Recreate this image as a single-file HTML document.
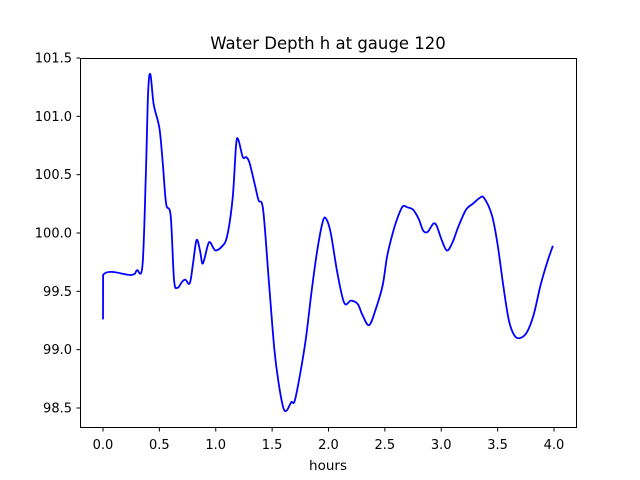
<!DOCTYPE html>
<html><head><meta charset="utf-8"><style>
html,body{margin:0;padding:0;background:#fff;}
svg{display:block;font-family:"DejaVu Sans","Liberation Sans",sans-serif;}
</style></head><body>
<svg id="chart" width="640" height="480" viewBox="0 0 640 480">
<rect width="640" height="480" fill="#fff"/>
<text x="328" y="49" font-size="16.5" text-anchor="middle">Water Depth h at gauge 120</text>
<g id="xt"></g>
<g id="yt"></g>
<path id="line" fill="none" stroke="#0000ff" stroke-width="1.8" stroke-linejoin="round"/>
<rect x="80.5" y="58.5" width="496" height="369" fill="none" stroke="#000" stroke-width="1"/>
<text x="328" y="470" font-size="13.5" text-anchor="middle">hours</text>
</svg>
<script>
const hours=[0,0.001,0.25,0.3,0.35,0.38,0.4,0.42,0.45,0.5,0.53,0.56,0.6,0.63,0.66,0.7,0.73,0.77,0.8,0.83,0.86,0.88,0.9,0.94,0.98,1.0,1.05,1.1,1.15,1.18,1.2,1.24,1.27,1.3,1.35,1.38,1.42,1.47,1.52,1.56,1.6,1.63,1.67,1.7,1.75,1.8,1.85,1.9,1.95,1.98,2.02,2.08,2.14,2.2,2.26,2.3,2.36,2.42,2.48,2.52,2.57,2.62,2.66,2.7,2.75,2.8,2.84,2.88,2.93,2.96,3.0,3.05,3.1,3.15,3.22,3.28,3.34,3.38,3.45,3.5,3.55,3.6,3.65,3.7,3.76,3.82,3.88,3.94,3.99];
const depth=[99.26,99.64,99.64,99.68,99.72,100.5,101.2,101.36,101.1,100.9,100.6,100.25,100.15,99.6,99.53,99.58,99.6,99.57,99.75,99.94,99.85,99.74,99.78,99.92,99.87,99.85,99.88,99.97,100.3,100.75,100.8,100.65,100.65,100.6,100.4,100.28,100.2,99.6,99.0,98.7,98.5,98.48,98.55,98.56,98.8,99.1,99.5,99.85,100.1,100.12,100.0,99.65,99.4,99.42,99.39,99.3,99.21,99.35,99.55,99.8,100.0,100.15,100.23,100.22,100.2,100.12,100.02,100.01,100.08,100.06,99.95,99.85,99.92,100.05,100.2,100.25,100.3,100.3,100.15,99.9,99.55,99.25,99.12,99.1,99.15,99.3,99.55,99.75,99.89];
const xTicks=[0,0.5,1,1.5,2,2.5,3,3.5,4];
const xTickLabels=["0.0","0.5","1.0","1.5","2.0","2.5","3.0","3.5","4.0"];
const yTicks=[98.5,99,99.5,100,100.5,101,101.5];
const yTickLabels=["98.5","99.0","99.5","100.0","100.5","101.0","101.5"];
const X=v=>103+v*112.75;
const Y=v=>408-(v-98.5)*116.67;
const ns="http://www.w3.org/2000/svg";
const P=hours.map((h,i)=>[X(h),Y(depth[i])]);
let d='M'+P[0][0].toFixed(2)+','+P[0][1].toFixed(2);
for(let i=0;i<P.length-1;i++){
 const p0=P[Math.max(0,i-1)],p1=P[i],p2=P[i+1],p3=P[Math.min(P.length-1,i+2)];
 const clampX=(x)=>Math.min(Math.max(x,p1[0]),p2[0]);
 const lo=Math.min(p1[1],p2[1]),hi=Math.max(p1[1],p2[1]);
 let c1x=clampX(p1[0]+(p2[0]-p0[0])/6),c1y=p1[1]+(p2[1]-p0[1])/6;
 let c2x=clampX(p2[0]-(p3[0]-p1[0])/6),c2y=p2[1]-(p3[1]-p1[1])/6;
 if(p2[0]-p1[0]<1){c1x=p1[0];c1y=p1[1];c2x=p2[0];c2y=p2[1];}
 d+=' C'+c1x.toFixed(2)+','+c1y.toFixed(2)+' '+c2x.toFixed(2)+','+c2y.toFixed(2)+' '+p2[0].toFixed(2)+','+p2[1].toFixed(2);
}
document.getElementById('line').setAttribute('d',d);
const xt=document.getElementById('xt'),yt=document.getElementById('yt');
xTicks.forEach((v,i)=>{
 const l=document.createElementNS(ns,'line');
 
 
 l.setAttribute('x1',X(v));l.setAttribute('x2',X(v));l.setAttribute('y1',428);l.setAttribute('y2',431.5);l.setAttribute('stroke','#000');
 xt.appendChild(l);
 const t=document.createElementNS(ns,'text');
 
 
 t.setAttribute('x',X(v));t.setAttribute('y',449);t.setAttribute('font-size','13');t.setAttribute('text-anchor','middle');
 t.textContent=xTickLabels[i];xt.appendChild(t);
});
yTicks.forEach((v,i)=>{
 const l=document.createElementNS(ns,'line');
 
 
 l.setAttribute('x1',76.5);l.setAttribute('x2',80);l.setAttribute('y1',Y(v));l.setAttribute('y2',Y(v));l.setAttribute('stroke','#000');
 yt.appendChild(l);
 const t=document.createElementNS(ns,'text');
 
 
 t.setAttribute('x',72);t.setAttribute('y',Y(v)+4.5);t.setAttribute('font-size','13');t.setAttribute('text-anchor','end');
 t.textContent=yTickLabels[i];yt.appendChild(t);
});
</script>
</body></html>
